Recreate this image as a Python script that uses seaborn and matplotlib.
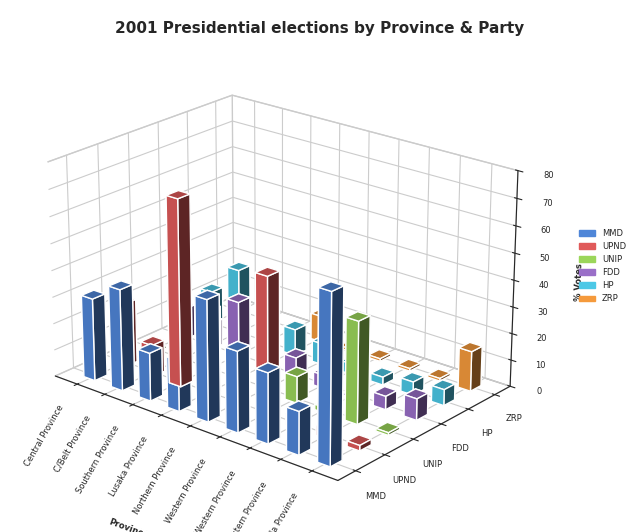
import numpy as np
import matplotlib
matplotlib.use("Agg")
import matplotlib.pyplot as plt
import seaborn as sns
from matplotlib.patches import Patch

sns.set_style("white")

provinces = ["Central Province", "C/Belt Province", "Southern Province", "Lusaka Province",
             "Northern Province", "Western Province", "N/Western Province", "Eastern Province",
             "Luapula Province"]
parties = ["MMD", "UPND", "UNIP", "FDD", "HP", "ZRP"]
mmd  = [31, 38, 18, 19, 45, 30, 26, 16, 62]
upnd = [24, 12, 70, 32, 6, 52, 4, 4, 2]
unip = [1, 1, 1, 1, 2, 10, 2, 38, 1]
fdd  = [12, 10, 22, 28, 8, 5, 1, 5, 8]
hp   = [14, 26, 2, 10, 8, 4, 3, 5, 6]
zrp  = [1, 1, 1, 10, 1, 1, 1, 1, 15]
colors = ["#4f86d8", "#e05a5a", "#9bd65a", "#9a6fc8", "#4cc8e6", "#f59a3c"]

data = np.array([mmd, upnd, unip, fdd, hp, zrp])

fig = plt.figure(figsize=(6.4, 5.32), dpi=100)
ax = fig.add_axes([-0.02, 0.02, 0.9, 0.9], projection="3d")
for j in range(len(parties)):
    for i in range(len(provinces)):
        ax.bar3d(i, j, 0, 0.4, 0.4, data[j, i], color=colors[j], shade=True)

ax.set_box_aspect((1.6, 1.2, 1.0), zoom=1.05)
ax.set_xticks(np.arange(len(provinces)) + 0.2)
ax.set_xticklabels(provinces, rotation=60, fontsize=6, ha="right")
ax.set_yticks(np.arange(len(parties)) + 0.2)
ax.set_yticklabels(parties, fontsize=6)
ax.set_zlim(0, 80)
ax.set_zticks(range(0, 81, 10))
ax.tick_params(axis="z", labelsize=6)
ax.set_xlabel("Province", fontsize=6, fontweight="bold", labelpad=38)
ax.set_zlabel("% Votes", fontsize=6, fontweight="bold")
ax.view_init(elev=22, azim=-50)
for a in (ax.xaxis, ax.yaxis, ax.zaxis):
    a.pane.fill = False
    a.pane.set_edgecolor("#999999")
ax.grid(True)

fig.suptitle("2001 Presidential elections by Province & Party", fontsize=11, fontweight="bold", y=0.96)
handles = [Patch(color=c, label=p) for c, p in zip(colors, parties)]
fig.legend(handles=handles, loc="center right", fontsize=6, frameon=False, bbox_to_anchor=(0.99, 0.5))
fig.savefig("out.png", dpi=100)
